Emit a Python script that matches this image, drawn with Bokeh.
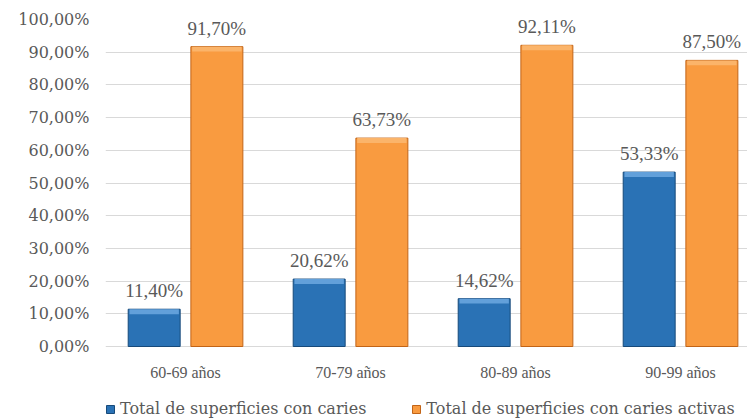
from bokeh.plotting import figure
from bokeh.models import Range1d, FixedTicker, Legend, LegendItem, ColumnDataSource, LabelSet
from bokeh.embed import file_html
from bokeh.resources import INLINE

categories = ["60-69 años", "70-79 años", "80-89 años", "90-99 años"]
caries = [11.40, 20.62, 14.62, 53.33]
activas = [91.70, 63.73, 92.11, 87.50]
series_names = ["Total de superficies con caries", "Total de superficies con caries activas"]
y_ticks = [0, 10, 20, 30, 40, 50, 60, 70, 80, 90, 100]
y_tick_labels = ["0,00%", "10,00%", "20,00%", "30,00%", "40,00%", "50,00%",
                 "60,00%", "70,00%", "80,00%", "90,00%", "100,00%"]

FONT = "DejaVu Serif"
TXT = "#595959"

def fmt(v):
    return f"{v:.2f}".replace(".", ",") + "%"

xc = [i + 0.5 for i in range(len(categories))]
off = 0.19
bw = 0.315
PX_PER_UNIT = 3.27
below_units = 73 / PX_PER_UNIT

src_b = ColumnDataSource(dict(x=[x - off for x in xc], top=caries,
                              hl=[t - 1.5 for t in caries],
                              lab=[fmt(v) for v in caries]))
src_o = ColumnDataSource(dict(x=[x + off for x in xc], top=activas,
                              hl=[t - 1.5 for t in activas],
                              lab=[fmt(v) for v in activas]))
src_c = ColumnDataSource(dict(x=xc, y=[0] * len(categories), text=categories))

p = figure(frame_width=642, frame_height=400, output_backend="svg", toolbar_location=None,
           x_range=Range1d(0.015, 0.015 + 642 / 165),
           y_range=Range1d(-below_units, 100))
p.min_border_left = 105
p.min_border_right = 0
p.min_border_top = 19
p.min_border_bottom = 0
p.outline_line_color = None
p.background_fill_color = "white"
p.border_fill_color = "white"

rb = p.vbar(x="x", top="top", bottom=0, width=bw, source=src_b,
            fill_color="#2A72B5", line_color="#174A7A", line_width=1)
p.vbar(x="x", top="top", bottom="hl", width=bw * 0.95, source=src_b,
       fill_color="#62A0DA", line_color=None)
ro = p.vbar(x="x", top="top", bottom=0, width=bw, source=src_o,
            fill_color="#F99B40", line_color="#C26417", line_width=1)
p.vbar(x="x", top="top", bottom="hl", width=bw * 0.95, source=src_o,
       fill_color="#FBB46A", line_color=None)

for s in (src_b, src_o):
    p.add_layout(LabelSet(x="x", y="top", text="lab", source=s, text_align="center",
                          text_baseline="bottom", y_offset=8, text_font=FONT,
                          text_font_size="19px", text_color=TXT))

# category labels under the zero line
p.add_layout(LabelSet(x="x", y="y", text="text", source=src_c, text_align="center",
                      text_baseline="middle", y_offset=-26, text_font=FONT,
                      text_font_size="16px", text_color=TXT))

p.xaxis.visible = False
p.yaxis.ticker = FixedTicker(ticks=y_ticks)
p.yaxis.major_label_overrides = {t: l for t, l in zip(y_ticks, y_tick_labels)}
p.yaxis.axis_line_color = None
p.yaxis.major_tick_line_color = None
p.yaxis.minor_tick_line_color = None
p.yaxis.major_label_text_font = FONT
p.yaxis.major_label_text_font_size = "16px"
p.yaxis.major_label_text_color = TXT
p.yaxis.major_label_standoff = 10
p.xgrid.grid_line_color = None
p.ygrid.grid_line_color = "#D9D9D9"
p.ygrid.grid_line_width = 1

legend = Legend(items=[LegendItem(label=series_names[0], renderers=[rb]),
                       LegendItem(label=series_names[1], renderers=[ro])],
                orientation="horizontal", location=(0, 1),
                label_text_font=FONT, label_text_font_size="16px", label_text_color=TXT,
                glyph_width=10, glyph_height=10, spacing=45, border_line_color=None,
                background_fill_alpha=0, padding=0, margin=0, label_standoff=5,
                label_height=16)
p.add_layout(legend)

open("out.html", "w").write(file_html(p, INLINE))
